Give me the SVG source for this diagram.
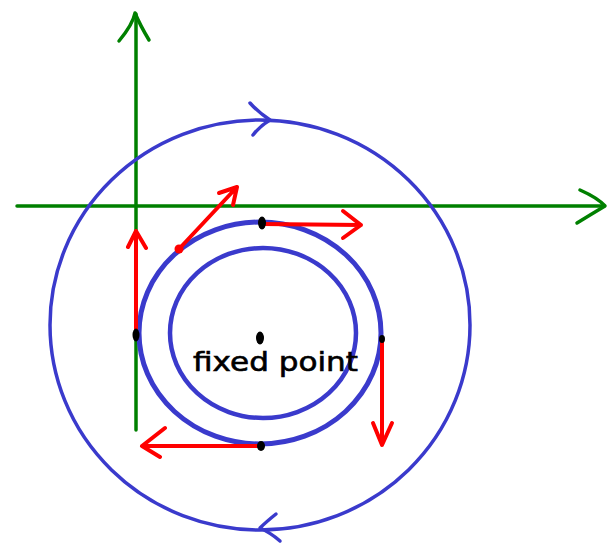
<svg xmlns="http://www.w3.org/2000/svg" width="616" height="544" viewBox="0 0 616 544">
<style>
.ax{stroke:#008000;stroke-width:3.5;fill:none;stroke-linecap:round;stroke-linejoin:round}
.orb{stroke:#3a3acc;fill:none;stroke-linecap:round;stroke-linejoin:round}
.vec{stroke:#ff0000;stroke-width:4;fill:none;stroke-linecap:round;stroke-linejoin:round}
.dot{fill:#000}
.lbl{font-family:"DejaVu Sans",sans-serif;font-size:26px;fill:#000;stroke:#000;stroke-width:0.6}
</style>
<rect width="616" height="544" fill="#fff"/>
<g id="axes">
<path class="ax" d="M136,430 L136,14"/>
<path class="ax" d="M119,41 Q133,24 135,13 Q140,25 149,40"/>
<path class="ax" d="M17,206 L604,206"/>
<path class="ax" d="M580,190 Q598,198 605,206 Q590,215 577,223"/>
</g>
<g id="outer-orbit">
<ellipse class="orb" stroke-width="3.5" cx="260" cy="325" rx="210" ry="205"/>
<path class="orb" stroke-width="3.5" d="M250,103 Q258,112 270,120 Q260,126 253,135"/>
<path class="orb" stroke-width="3.5" d="M276,514 Q266,522 260,528 Q271,533 280,541"/>
</g>
<g id="middle-orbit">
<ellipse class="orb" stroke-width="5" cx="260" cy="333" rx="121" ry="111"/>
</g>
<g id="inner-orbit">
<ellipse class="orb" stroke-width="4.5" cx="263" cy="333" rx="93" ry="85"/>
</g>
<g id="connectors">
<path class="vec" d="M136,335 L136,231 M128,247 L136,231 L146,248"/>
<path class="vec" d="M179,249 L237,187 M219,193 L237,187 L233,205"/>
<path class="vec" d="M262,224 L361,225 M343,211 L361,225 L343,238"/>
<path class="vec" d="M382,340 L382,445 M373,423 L382,445 L392,423"/>
<path class="vec" d="M261,446 L142,446 M165,428 L142,446 L160,457"/>
<circle cx="179" cy="249" r="4.5" fill="#ff0000"/>
</g>
<g id="points">
<ellipse class="dot" cx="262" cy="223" rx="4" ry="6.5"/>
<ellipse class="dot" cx="136" cy="335" rx="3.5" ry="6.5"/>
<ellipse class="dot" cx="382" cy="339" rx="3" ry="4"/>
<ellipse class="dot" cx="261" cy="446" rx="4" ry="5"/>
</g>
<g id="fixed-point">
<ellipse class="dot" cx="260" cy="338" rx="4" ry="6.5"/>
<text class="lbl" x="193" y="371" textLength="165" lengthAdjust="spacingAndGlyphs">fixed point</text>
</g>
</svg>
